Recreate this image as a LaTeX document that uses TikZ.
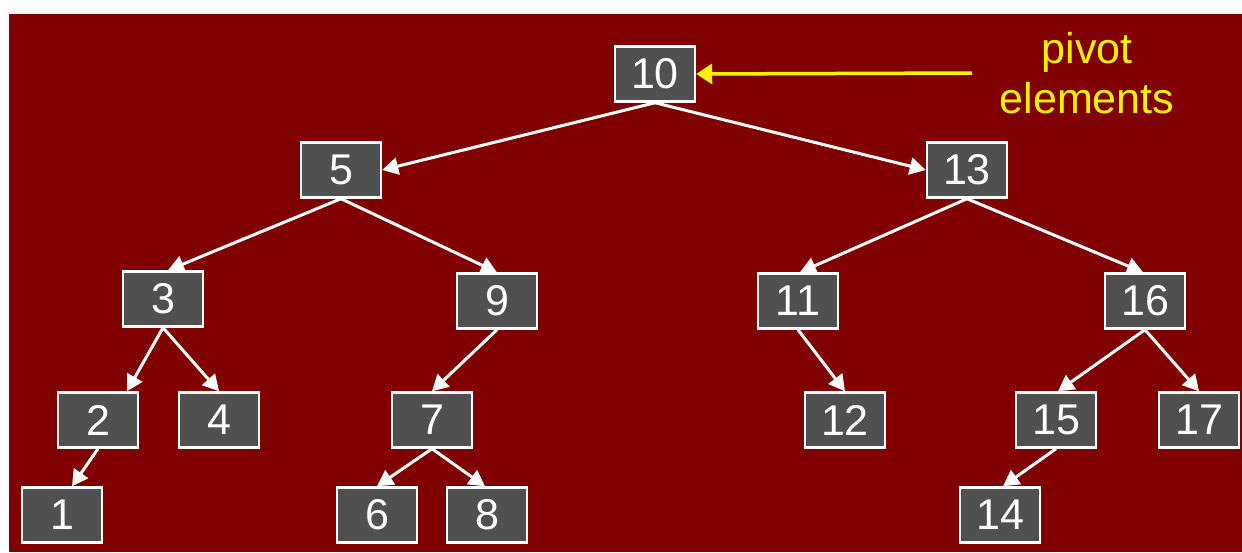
\documentclass[tikz,border=0pt]{standalone}
\usepackage{fontspec}
\setmainfont{Liberation Sans}
\usetikzlibrary{arrows.meta}
\definecolor{bgred}{RGB}{128,0,0}
\definecolor{boxgray}{RGB}{80,80,80}

\begin{document}
\begin{tikzpicture}
[x=0.02cm,y=-0.02cm]
\tikzset{box/.style={rectangle,draw=white,fill=boxgray,line width=1.4pt,minimum width=1.6cm,minimum height=1.1cm,inner sep=0pt,text=white,font=\fontsize{24.5}{29}\selectfont},
edge/.style={draw=white,line width=0.06cm,-{Triangle[length=0.32cm,width=0.34cm]}}}
\fill[white] (0,0) rectangle (1242,552);
\fill[bgred] (9,14) rectangle (1242,552);
\useasboundingbox (0,0) rectangle (1242,552);

\node [box] (n10) at (655,74) {10};
\node [box] (n5) at (341,170) {5};
\node [box] (n13) at (967,170) {13};
\node [box] (n3) at (163,299) {3};
\node [box] (n9) at (497,301) {9};
\node [box] (n11) at (798,301) {11};
\node [box] (n16) at (1145,301) {16};
\node [box] (n2) at (98,420) {2};
\node [box] (n4) at (219,420) {4};
\node [box] (n7) at (432,420) {7};
\node [box] (n12) at (845,420) {12};
\node [box] (n15) at (1056,420) {15};
\node [box] (n17) at (1199,420) {17};
\node [box] (n1) at (62,515) {1};
\node [box] (n6) at (377,515) {6};
\node [box] (n8) at (487,515) {8};
\node [box] (n14) at (1000,515) {14};

\node [text=yellow,align=center,font=\fontsize{24.5}{28.5}\selectfont] (pivot) at (1087,73) {pivot\\elements};
\coordinate (pv) at (972,73);

\draw [edge] (n10.south) -- (n5.east);
\draw [edge] (n10.south) -- (n13.west);
\foreach \from/\to/\dx in {n5/n3/5,n5/n9/0,n13/n11/2,n13/n16/-2,n3/n2/29,n3/n4/0,n9/n7/0,n11/n12/0,n16/n15/2,n16/n17/0,n2/n1/10,n7/n6/0,n7/n8/-2,n15/n14/3}
	\draw [edge] (\from.south) -- ([xshift=\dx*0.02cm]\to.north);
\draw [yellow,line width=0.07cm,-{Triangle[length=0.32cm,width=0.4cm]}] (pv) -- (n10.east);

\end{tikzpicture}
\end{document}
